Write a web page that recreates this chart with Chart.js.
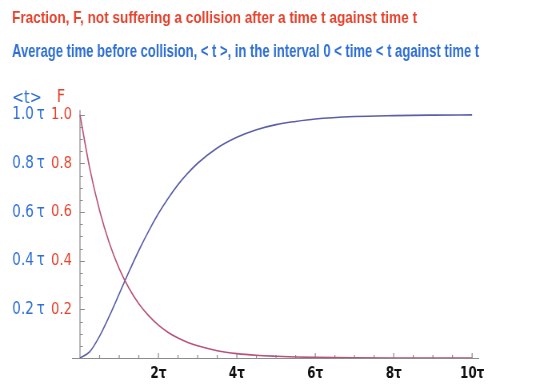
<!DOCTYPE html>
<html>
<head>
<meta charset="utf-8">
<script src="https://cdn.jsdelivr.net/npm/chart.js@4.4.1/dist/chart.umd.min.js"></script>
<style>
  html, body { margin: 0; padding: 0; background: #fff; overflow: hidden; }
  #wrap { width: 675px; height: 389px; transform: scaleX(0.8); transform-origin: 0 0; }
</style>
</head>
<body>
<div id="wrap"><canvas id="c"></canvas></div>
<script>
// ---- data ----
const timeValues = [0, 0.25, 0.5, 0.75, 1, 1.25, 1.5, 1.75, 2, 2.25, 2.5, 2.75, 3, 3.5, 4, 4.5, 5, 5.5, 6, 7, 8, 9, 10];
const fractionF  = [1, 0.779, 0.607, 0.472, 0.368, 0.287, 0.223, 0.174, 0.135, 0.105, 0.082, 0.064, 0.050, 0.030, 0.018, 0.011, 0.007, 0.004, 0.0025, 0.001, 0.0003, 0.0001, 0];
const averageT   = [0, 0.026, 0.09, 0.173, 0.264, 0.355, 0.442, 0.522, 0.594, 0.657, 0.713, 0.760, 0.801, 0.864, 0.908, 0.939, 0.960, 0.973, 0.983, 0.993, 0.997, 0.999, 1.0];
const xTickValues = [2, 4, 6, 8, 10];
const xTickLabels = ['2τ', '4τ', '6τ', '8τ', '10τ'];
const yTickValues = [0.2, 0.4, 0.6, 0.8, 1.0];
const yTickLabelsT = ['0.2\u2009τ', '0.4\u2009τ', '0.6\u2009τ', '0.8\u2009τ', '1.0\u2009τ'];
const yTickLabelsF = ['0.2', '0.4', '0.6', '0.8', '1.0'];
const titleF = 'Fraction, F, not suffering a collision after a time t against time t';
const titleT = 'Average time before collision, < t >, in the interval 0 < time < t against time t';

const RED = '#e5412b';
const BLUE = '#2d6fd6';

const axesPlugin = {
  id: 'axesPlugin',
  beforeDatasetsDraw(chart) {
    const ctx = chart.ctx;
    const xs = chart.scales.x, ys = chart.scales.yF;
    const x0 = xs.getPixelForValue(0), y0 = ys.getPixelForValue(0);
    ctx.save();
    ctx.strokeStyle = '#8c8c8c';
    ctx.lineWidth = 1;
    ctx.beginPath();
    ctx.moveTo(xs.getPixelForValue(xs.min), y0 + 0.5);
    ctx.lineTo(xs.getPixelForValue(xs.max), y0 + 0.5);
    ctx.stroke();
    ctx.lineWidth = 1.25;
    ctx.beginPath();
    ctx.moveTo(x0, y0);
    ctx.lineTo(x0, ys.getPixelForValue(ys.max));
    ctx.stroke();
    // x ticks (inside, upward)
    ctx.lineWidth = 1.25;
    for (let i = 1; i <= 20; i++) {
      const v = i * 0.5;
      const px = xs.getPixelForValue(v);
      const len = (i % 4 === 0) ? 5 : 3;
      ctx.beginPath();
      ctx.moveTo(px, y0);
      ctx.lineTo(px, y0 - len);
      ctx.stroke();
    }
    // y ticks (inside, rightward)
    ctx.lineWidth = 1;
    for (let i = 1; i <= 20; i++) {
      const v = i * 0.05;
      const py = Math.round(ys.getPixelForValue(v)) + 0.5;
      const len = (i % 4 === 0) ? 6 : 3.5;
      ctx.beginPath();
      ctx.moveTo(x0, py);
      ctx.lineTo(x0 + len, py);
      ctx.stroke();
    }
    ctx.restore();
  },
  afterDraw(chart) {
    const ctx = chart.ctx;
    const yT = chart.scales.yT, yF = chart.scales.yF;
    ctx.save();
    ctx.font = '18px "DejaVu Sans"';
    ctx.textBaseline = 'middle';
    ctx.textAlign = 'left';
    ctx.fillStyle = BLUE;
    ctx.fillText('<t>', yT.left, 98);
    ctx.fillStyle = RED;
    ctx.fillText('F', yF.left + 11, 97);
    ctx.restore();
  }
};

new Chart(document.getElementById('c'), {
  type: 'line',
  data: {
    datasets: [
      {
        label: 'F',
        data: timeValues.map((t, i) => ({ x: t, y: fractionF[i] })),
        yAxisID: 'yF',
        borderColor: '#b8527a',
        borderWidth: 1.6,
        pointRadius: 0,
        cubicInterpolationMode: 'monotone',
        fill: false
      },
      {
        label: '<t>',
        data: timeValues.map((t, i) => ({ x: t, y: averageT[i] })),
        yAxisID: 'yT',
        borderColor: '#5b5fa8',
        borderWidth: 1.6,
        pointRadius: 0,
        cubicInterpolationMode: 'monotone',
        fill: false
      }
    ]
  },
  options: {
    responsive: true,
    maintainAspectRatio: false,
    devicePixelRatio: 1,
    animation: false,
    layout: { padding: { left: 15, right: 76, top: 0, bottom: 0 } },
    plugins: {
      legend: { display: false },
      tooltip: { enabled: false },
      title: {
        display: true,
        text: titleF,
        color: RED,
        align: 'start',
        font: { family: '"Liberation Sans", Arial, sans-serif', size: 17, weight: 'bold' },
        padding: { top: 8, bottom: 0 }
      },
      subtitle: {
        display: true,
        text: titleT,
        color: BLUE,
        align: 'start',
        font: { family: '"Liberation Sans", Arial, sans-serif', size: 18, weight: 'bold' },
        padding: { top: 13, bottom: 47 }
      }
    },
    scales: {
      x: {
        type: 'linear',
        min: -0.204,
        max: 10.18,
        grid: { display: false, drawTicks: false },
        border: { display: false },
        afterBuildTicks: s => { s.ticks = xTickValues.map(v => ({ value: v })); },
        afterFit: s => { s.height = 31; },
        ticks: {
          autoSkip: false,
          maxRotation: 0,
          padding: 7,
          color: '#111',
          font: { family: '"DejaVu Sans"', size: 15, weight: 'bold' },
          callback: v => xTickLabels[xTickValues.indexOf(v)]
        }
      },
      yF: {
        type: 'linear',
        position: 'left',
        weight: 0,
        min: 0,
        max: 1.02,
        grid: { display: false, drawTicks: false },
        border: { display: false },
        afterBuildTicks: s => { s.ticks = yTickValues.map(v => ({ value: v })); },
        afterFit: s => { s.width = 30; },
        ticks: {
          padding: 0,
          color: RED,
          font: { family: '"DejaVu Sans"', size: 16.5 },
          callback: v => yTickLabelsF[yTickValues.findIndex(t => Math.abs(t - v) < 1e-6)]
        }
      },
      yT: {
        type: 'linear',
        position: 'left',
        weight: 1,
        min: 0,
        max: 1.02,
        grid: { display: false, drawTicks: false },
        border: { display: false },
        afterBuildTicks: s => { s.ticks = yTickValues.map(v => ({ value: v })); },
        afterFit: s => { s.width = 45; },
        ticks: {
          padding: 4,
          color: BLUE,
          font: { family: '"DejaVu Sans"', size: 17 },
          callback: v => yTickLabelsT[yTickValues.findIndex(t => Math.abs(t - v) < 1e-6)]
        }
      }
    }
  },
  plugins: [axesPlugin]
});
</script>
</body>
</html>
